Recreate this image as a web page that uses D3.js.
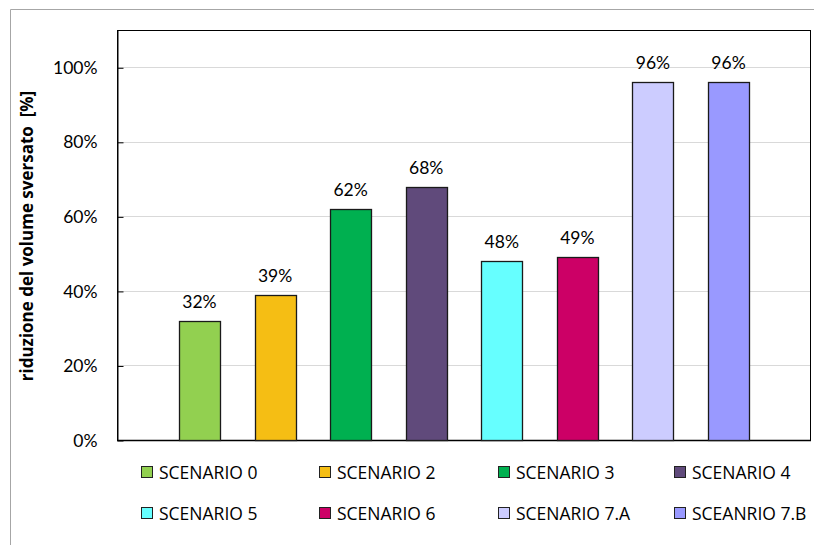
<!DOCTYPE html>
<html>
<head>
<meta charset="utf-8">
<script src="https://cdn.jsdelivr.net/npm/d3@7"></script>
<style>
  html, body { margin: 0; padding: 0; background: #fff; }
  svg { display: block; font-family: Lato, "Open Sans", sans-serif; }
</style>
</head>
<body>
<svg id="chart" width="814" height="545"></svg>
<script>
// Scenario names, reduction values (share of spilled volume) and bar colours
const scenarios = ["SCENARIO 0", "SCENARIO 2", "SCENARIO 3", "SCENARIO 4",
                   "SCENARIO 5", "SCENARIO 6", "SCENARIO 7.A", "SCEANRIO 7.B"];
const reduction = [0.32, 0.39, 0.62, 0.68, 0.48, 0.49, 0.96, 0.96];
const colors = ["#92D050", "#F5BE14", "#00B050", "#604A7B",
                "#66FFFF", "#CC0066", "#CCCCFF", "#9999FF"];
const yTicks = [0, 0.2, 0.4, 0.6, 0.8, 1.0];
const yTitle = "riduzione del volume sversato  [%]";

const NUM_FONT = "Lato, 'Open Sans', sans-serif";
const TXT_FONT = "'Open Sans', 'Noto Sans', sans-serif";
const svg = d3.select("#chart");
const plot = { left: 117, top: 30, right: 811, bottom: 440 };

// Outer chart frame
svg.append("path")
  .attr("d", `M10.5,545 V9.5 H814`)
  .attr("fill", "none").attr("stroke", "#A6A6A6").attr("stroke-width", 1);

const x = d3.scaleBand()
  .domain(scenarios)
  .range([plot.left, plot.right])
  .paddingInner(0.457)
  .paddingOuter(0.82);

const y = d3.scaleLinear().domain([0, 1.1]).range([plot.bottom, plot.top]);

// Gridlines
svg.append("g").selectAll("line").data(yTicks.filter(d => d > 0)).join("line")
  .attr("x1", plot.left).attr("x2", plot.right)
  .attr("y1", d => Math.round(y(d)) + 0.5).attr("y2", d => Math.round(y(d)) + 0.5)
  .attr("stroke", "#D9D9D9").attr("stroke-width", 1);

// Plot area frame
svg.append("rect")
  .attr("x", plot.left + 0.5).attr("y", plot.top + 0.5)
  .attr("width", plot.right - plot.left - 1).attr("height", plot.bottom - plot.top)
  .attr("fill", "none").attr("stroke", "#000").attr("stroke-width", 1);

// Y axis with inward ticks
const yAxis = d3.axisLeft(y).tickValues(yTicks)
  .tickFormat(d3.format(".0%")).tickSizeInner(-6).tickSizeOuter(0).tickPadding(20);
const gy = svg.append("g")
  .attr("transform", `translate(${plot.left + 0.5},0.5)`)
  .call(yAxis)
  .attr("font-family", NUM_FONT);
gy.select(".domain").attr("stroke", "#000");
gy.selectAll(".tick line").attr("stroke", "#000");
gy.selectAll(".tick text")
  .attr("font-size", 17.5).attr("fill", "#000");

// Bottom axis line
svg.append("line")
  .attr("x1", plot.left).attr("x2", plot.right)
  .attr("y1", plot.bottom + 0.5).attr("y2", plot.bottom + 0.5)
  .attr("stroke", "#000").attr("stroke-width", 1.5);

// Bars
svg.append("g").selectAll("rect").data(scenarios).join("rect")
  .attr("x", d => Math.round(x(d)) + 0.5)
  .attr("y", (d, i) => Math.round(y(reduction[i])) + 0.5)
  .attr("width", Math.round(x.bandwidth()))
  .attr("height", (d, i) => Math.round(y(0)) - Math.round(y(reduction[i])))
  .attr("fill", (d, i) => colors[i])
  .attr("stroke", "#1a1a1a").attr("stroke-width", 1.3);

// Value labels
svg.append("g").selectAll("text").data(scenarios).join("text")
  .attr("x", d => x(d) + x.bandwidth() / 2)
  .attr("y", (d, i) => y(reduction[i]) - 13)
  .attr("text-anchor", "middle")
  .attr("font-family", NUM_FONT)
  .attr("font-size", 17.5).attr("fill", "#000")
  .text((d, i) => d3.format(".0%")(reduction[i]));

// Y axis title
svg.append("text")
  .attr("transform", `translate(33,${(plot.top + plot.bottom) / 2 + 1}) rotate(-90)`)
  .attr("text-anchor", "middle")
  .attr("font-family", TXT_FONT)
  .attr("font-size", 17).attr("font-weight", "bold").attr("fill", "#000")
  .style("white-space", "pre")
  .text(yTitle);

// Legend: two rows of four entries
const legend = svg.append("g");
const colX = [141, 319, 498, 674];
const rowY = [473, 514];
const items = legend.selectAll("g").data(scenarios).join("g")
  .attr("transform", (d, i) => `translate(${colX[i % 4]},${rowY[Math.floor(i / 4)]})`);
items.append("rect")
  .attr("x", 0.5).attr("y", -6.5).attr("width", 11).attr("height", 11)
  .attr("fill", (d, i) => colors[i]).attr("stroke", "#222").attr("stroke-width", 1);
items.append("text")
  .attr("x", 18).attr("y", 0).attr("dy", "0.36em")
  .attr("font-family", TXT_FONT)
  .attr("font-size", 17.5).attr("fill", "#000")
  .text(d => d);
</script>
</body>
</html>
